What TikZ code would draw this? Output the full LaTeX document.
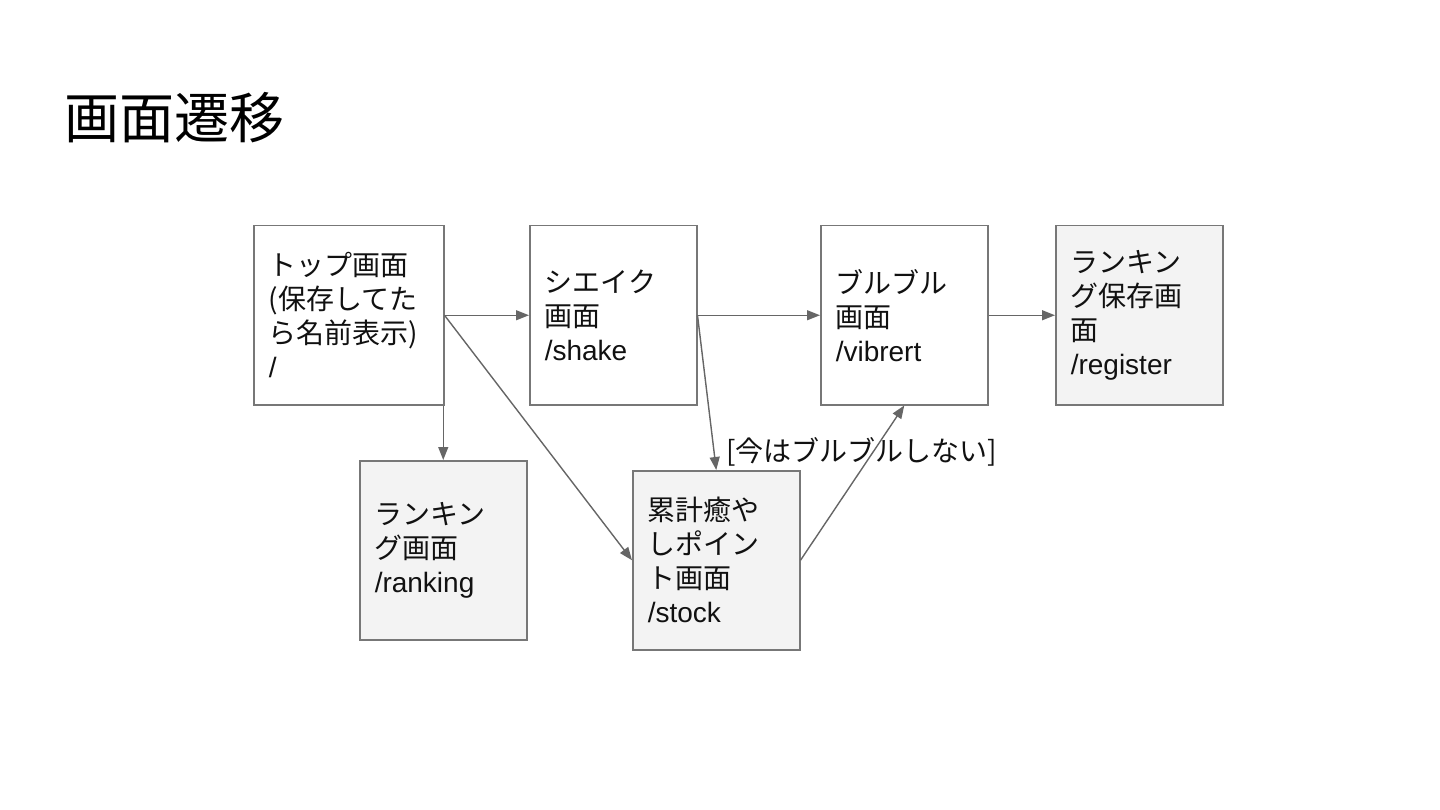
\documentclass[tikz,border=0pt]{standalone}
\usepackage{fontspec}
\usepackage{tikz}
\usetikzlibrary{arrows.meta,positioning}
\setmainfont{Liberation Sans}
\newfontfamily\jpfont{Noto Sans CJK JP}
\definecolor{ScrLine}{HTML}{777777}
\definecolor{ScrArrow}{HTML}{666666}
\definecolor{ScrFill}{HTML}{F3F3F3}
\definecolor{ScrInk}{HTML}{111111}

\begin{document}
\begin{tikzpicture}[x=1pt,y=-1pt,>=Stealth]
  \tikzset{
    block/.style={draw=ScrLine,line width=1.5pt,fill=white,anchor=north west,
      minimum height=179pt,inner xsep=15pt,inner ysep=0pt,align=left,
      text=ScrInk,font=\jpfont\fontsize{28}{34}\selectfont},
    saved/.style={block,fill=ScrFill},
    flow/.style={-{Triangle[length=13pt,width=10pt]},line width=1.4pt,draw=ScrArrow,fill=ScrArrow}
  }
  \useasboundingbox (0,0) rectangle (1440,810);
  \node[anchor=west,font=\jpfont\fontsize{55}{60}\selectfont,inner sep=0pt] (title) at (64,118) {画面遷移};
  % top row
  \node[block,text width=160pt] (top) at (253,225)
    {トップ画面\\(保存してた\\ら名前表示)\\{\rmfamily /}};
  \node[block,text width=137pt] (shake) at (529,225)
    {シエイク\\画面\\{\rmfamily /shake}};
  \node[block,text width=137pt] (vibrert) at (820,225)
    {ブルブル\\画面\\{\rmfamily /vibrert}};
  \node[saved,text width=137pt] (register) at (1055,225)
    {ランキン\\グ保存画\\面\\{\rmfamily /register}};
  % bottom row
  \node[saved,text width=137pt] (ranking) at (359,460)
    {ランキン\\グ画面\\{\rmfamily /ranking}};
  \node[saved,text width=137pt] (stock) at (632,470)
    {累計癒や\\しポイン\\ト画面\\{\rmfamily /stock}};
  \draw[flow] (top.east) -- (shake.west);
  \draw[flow] (shake.east) -- (vibrert.west);
  \draw[flow] (vibrert.east) -- (register.west);
  \draw[flow] (ranking.north |- top.south) -- (ranking.north);
  \draw[flow] (top.east) -- (stock.west);
  \draw[flow] (shake.east) -- (stock.north);
  \draw[flow] (stock.east) -- (vibrert.south);
  \node[anchor=west,inner sep=0pt,text=ScrInk,font=\jpfont\fontsize{28}{34}\selectfont] (skip) at (726,452) {[今はブルブルしない]};
\end{tikzpicture}
\end{document}
